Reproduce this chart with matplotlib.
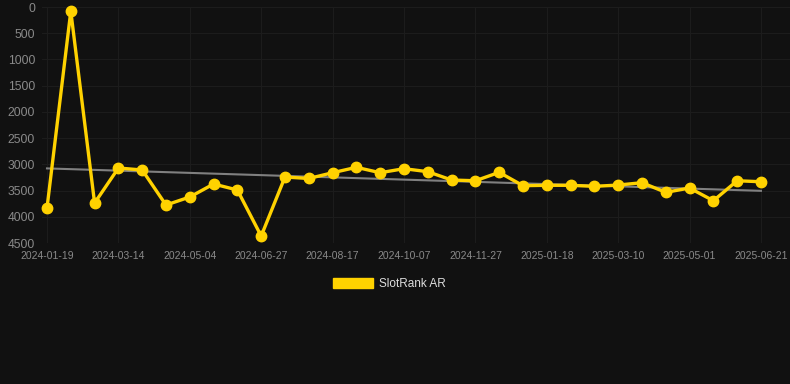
import matplotlib
matplotlib.use('Agg')

import numpy as np
import matplotlib.pyplot as plt
from matplotlib.patches import Patch

# ---- data ----
tick_dates = ['2024-01-19', '2024-03-14', '2024-05-04', '2024-06-27',
              '2024-08-17', '2024-10-07', '2024-11-27', '2025-01-18',
              '2025-03-10', '2025-05-01', '2025-06-21']
ranks = [3833, 80, 3738, 3070, 3108, 3776, 3623, 3375, 3490, 4367,
         3242, 3270, 3160, 3057, 3160, 3083, 3140, 3299, 3313, 3153,
         3407, 3400, 3400, 3420, 3395, 3350, 3534, 3452, 3694, 3313, 3332]
series_name = 'SlotRank AR'

# ---- style ----
C_BG = '#111111'
C_GRID = '#1c1c1c'
C_TEXT = '#8a8a8a'
C_LINE = '#FFD200'
C_TREND = '#808080'

fig = plt.figure(figsize=(7.9, 3.84), dpi=100, facecolor=C_BG)
ax = fig.add_axes([42 / 790, 1 - 243 / 384, 748 / 790, 236 / 384])
ax.set_facecolor(C_BG)

x = np.arange(len(ranks))
y = np.array(ranks)

# trend line (least squares)
k, b = np.polyfit(x, y, 1)
ax.plot(x, k * x + b, color=C_TREND, lw=1.5, zorder=2)

ax.plot(x, y, color=C_LINE, lw=2.4, marker='o', ms=7.5, zorder=3,
        clip_on=False)

ax.set_ylim(4500, 0)
ax.set_yticks(np.arange(0, 4501, 500))
ax.set_xlim(-0.21, 31.22)
ax.set_xticks(x[::3])
ax.set_xticklabels(tick_dates)

ax.grid(True, color=C_GRID, lw=0.8)
for s in ax.spines.values():
    s.set_visible(False)
ax.tick_params(length=0, colors=C_TEXT)
for lab in ax.get_yticklabels():
    lab.set_fontfamily('Liberation Sans')
    lab.set_fontsize(8.7)
for lab in ax.get_xticklabels():
    lab.set_fontfamily('Liberation Sans')
    lab.set_fontsize(7.5)
ax.tick_params(axis='y', pad=5)
ax.tick_params(axis='x', pad=6)

# ---- legend ----
fig.legend(handles=[Patch(facecolor=C_LINE, edgecolor=C_LINE, label=series_name)],
           loc='center', bbox_to_anchor=(0.493, 1 - 284 / 384),
           frameon=False, handlelength=3.4, handleheight=1.0,
           handletextpad=0.5,
           prop={'family': 'Liberation Sans', 'size': 8.5},
           labelcolor='#dddddd')

fig.savefig('out.png', dpi=100, facecolor=C_BG)
